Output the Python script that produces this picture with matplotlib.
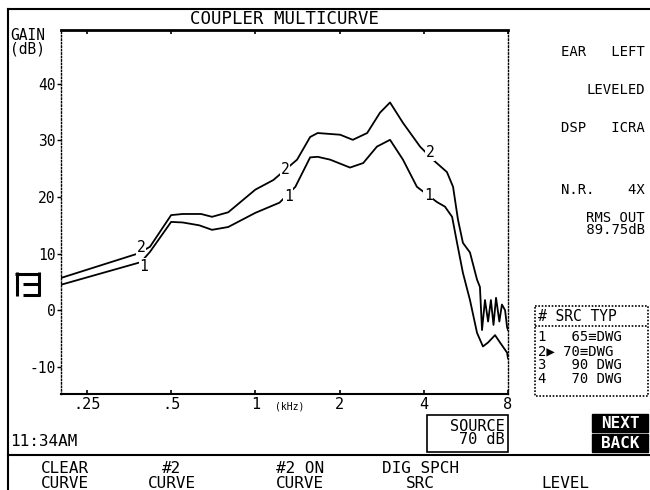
import numpy as np
import matplotlib.pyplot as plt
from matplotlib.patches import Rectangle

# curve 1 (lower) and curve 2 (upper)
freq_1 = [0.202, 0.39, 0.42, 0.50, 0.55, 0.63, 0.70, 0.80, 1.00, 1.22, 1.39,
          1.57, 1.67, 1.85, 2.18, 2.43, 2.72, 3.03, 3.37, 3.78, 4.46, 4.76,
          5.05, 5.26, 5.52, 5.85, 6.20, 6.51, 6.79, 7.19, 7.49, 7.94, 8.0]
gain_1 = [4.5, 8.5, 10.3, 15.6, 15.5, 15.0, 14.2, 14.7, 17.2, 19.0, 21.8,
          27.0, 27.1, 26.6, 25.2, 26.0, 28.9, 30.1, 26.6, 21.8, 19.1, 18.3,
          16.5, 11.9, 6.6, 1.8, -4.0, -6.4, -5.7, -4.4, -5.7, -7.5, -8.5]

freq_2 = [0.202, 0.38, 0.42, 0.50, 0.55, 0.64, 0.70, 0.80, 1.00, 1.16, 1.41,
          1.57, 1.67, 2.01, 2.23, 2.51, 2.79, 3.03, 3.37, 3.88, 4.31, 4.84,
          5.09, 5.30, 5.52, 5.85, 6.20, 6.35, 6.46, 6.62, 6.79, 6.95, 7.10,
          7.25, 7.45, 7.61, 7.81, 7.94, 8.0]
gain_2 = [5.7, 10.0, 11.2, 16.8, 17.0, 17.0, 16.5, 17.3, 21.3, 23.0, 26.6,
          30.6, 31.3, 31.0, 30.1, 31.3, 34.9, 36.7, 33.1, 28.9, 26.6, 24.4,
          21.8, 16.0, 11.9, 10.2, 5.4, 4.1, -3.5, 1.8, -2.0, 1.8, -2.6,
          2.2, -2.0, 1.0, 0.0, -3.0, -3.5]

# where the curve numbers sit on the screen (freq, gain, text)
label_freq = [0.390, 0.400, 1.275, 1.31, 4.21, 4.15]
label_gain = [11.1, 7.8, 24.8, 20.1, 27.8, 20.2]
label_text = ['2', '1', '2', '1', '2', '1']

xticks = [0.25, 0.5, 1, 2, 4, 8]
xticklabels = ['.25', '.5', '1', '2', '4', '8']
yticks = [40, 30, 20, 10, 0, -10]

side_lines = [("EAR   LEFT", 52), ("LEVELED", 90), ("DSP   ICRA", 128),
              ("N.R.    4X", 190)]
table_rows = ["1   65\u2261DWG", "2\u25b6 70\u2261DWG", "3   90 DWG", "4   70 DWG"]
soft_keys = [("CLEAR\nCURVE", 65), ("#2\nCURVE", 172), ("#2 ON\nCURVE", 300),
             ("DIG SPCH\nSRC", 420), ("\nLEVEL", 565)]

MONO = ['DejaVu Sans Mono', 'DejaVu Sans']
W, H = 650, 490

fig = plt.figure(figsize=(6.5, 4.9), dpi=100)
fig.patch.set_facecolor('white')

# overlay in screen pixels for all the frame text
ov = fig.add_axes([0, 0, 1, 1])
ov.set_xlim(0, W)
ov.set_ylim(H, 0)
ov.axis('off')

# screen frame
ov.plot([8, 8], [9, H], color='black', lw=1.5)
ov.plot([8, W], [9, 9], color='black', lw=1.5)
ov.plot([8, W], [455, 455], color='black', lw=1.5)

ov.text(285, 19, "COUPLER MULTICURVE", family=MONO, fontsize=12.5,
        ha='center', va='center')
ov.text(10, 42, "GAIN\n(dB)", family=MONO, fontsize=10.5, ha='left',
        va='center', linespacing=0.85)

# "F" icon at the left edge
icon_kw = dict(color='black', lw=2.2, solid_capstyle='butt')
ov.plot([16.5, 16.5], [272, 296], **icon_kw)
ov.plot([15, 40], [273.5, 273.5], **icon_kw)
ov.plot([38.5, 38.5], [272, 296], **icon_kw)
ov.plot([23, 40], [283.5, 283.5], **icon_kw)
ov.plot([23, 40], [294.5, 294.5], **icon_kw)

for txt, y in side_lines:
    ov.text(645, y, txt, family=MONO, fontsize=10, ha='right', va='center')
ov.text(645, 224, "RMS OUT\n 89.75dB", family=MONO, fontsize=10, ha='right',
        va='center', linespacing=0.8)

# source table
ov.add_patch(Rectangle((535, 306), 113, 90, fill=False, ls=(0, (1, 1)),
                       lw=1.2, ec='black'))
ov.plot([535, 648], [326, 326], color='black', ls=(0, (1, 1)), lw=1.2)
ov.text(538, 316, "# SRC TYP", family=MONO, fontsize=10.5, ha='left',
        va='center')
for i, row in enumerate(table_rows):
    ov.text(538, 337 + i * 14, row, family=MONO, fontsize=10, ha='left',
            va='center')

# NEXT / BACK buttons
for y0, txt in [(414, "NEXT"), (434, "BACK")]:
    ov.add_patch(Rectangle((592, y0), 56, 18, fc='black', ec='black'))
    ov.text(620, y0 + 9.5, txt, family=MONO, fontsize=11.5, color='white',
            ha='center', va='center', fontweight='bold')

# source box
ov.add_patch(Rectangle((427, 415), 81, 37, fill=False, ec='black', lw=1.2))
ov.text(505, 433, "SOURCE\n70 dB", family=MONO, fontsize=11, ha='right',
        va='center', linespacing=0.85, multialignment='right')

ov.text(10, 441, "11:34AM", family=MONO, fontsize=11.5, ha='left',
        va='center')
for txt, x in soft_keys:
    ov.text(x, 476, txt, family=MONO, fontsize=11.5, ha='center',
            va='center', linespacing=0.95)

ov.text(290, 406, "(kHz)", family=MONO, fontsize=7, ha='center', va='center')

# gain plot
ax = fig.add_axes([61 / W, (H - 394) / H, (508 - 61) / W, (394 - 30) / H])
ax.set_facecolor('white')
ax.plot(freq_1, gain_1, color='black', lw=1.3)
ax.plot(freq_2, gain_2, color='black', lw=1.3)
for f, g, t in zip(label_freq, label_gain, label_text):
    ax.text(f, g, t, family=MONO, fontsize=10.5, ha='center', va='center',
            bbox=dict(fc='white', ec='none', pad=0.3))

ax.set_xscale('log', base=2)
ax.set_xlim(0.202, 8)
ax.set_ylim(-14.8, 49.5)
ax.set_xticks(xticks)
ax.set_xticklabels(xticklabels, family=MONO, fontsize=11)
ax.minorticks_off()
ax.set_yticks(yticks)
ax.set_yticklabels([str(v) for v in yticks], family=MONO, fontsize=10.5)
ax.tick_params(axis='x', direction='in', length=3, width=1.2, pad=2,
               top=True)
ax.tick_params(axis='y', direction='out', length=3, width=1, pad=1)

ax.spines['top'].set_linewidth(2)
ax.spines['bottom'].set_linewidth(1.5)
for side in ['left', 'right']:
    ax.spines[side].set_linestyle((0, (1, 1.5)))
    ax.spines[side].set_linewidth(1.0)

fig.savefig('out.png', dpi=100)
